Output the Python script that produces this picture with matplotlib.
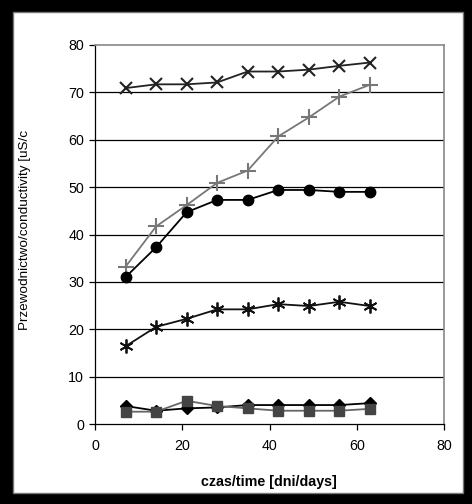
import matplotlib.pyplot as plt
from matplotlib.patches import Rectangle

plt.rcParams['font.family'] = ['Liberation Sans', 'DejaVu Sans']

# days of measurement
days = [7, 14, 21, 28, 35, 42, 49, 56, 63]

# conductivity series [uS/c]
cross_vals = [70.9, 71.7, 71.7, 72.1, 74.4, 74.4, 74.8, 75.6, 76.3]
plus_vals = [33.2, 41.7, 46.2, 50.9, 53.5, 60.7, 64.7, 69.1, 71.6]
circle_vals = [31.0, 37.3, 44.7, 47.3, 47.3, 49.4, 49.4, 49.0, 49.0]
star_vals = [16.4, 20.5, 22.2, 24.2, 24.2, 25.3, 24.9, 25.8, 24.9]
diamond_vals = [3.8, 2.8, 3.3, 3.5, 4.0, 4.0, 4.0, 4.0, 4.4]
square_vals = [2.6, 2.6, 4.9, 3.8, 3.3, 2.8, 2.8, 2.8, 3.2]

x_ticks = [0, 20, 40, 60, 80]
y_ticks = [0, 10, 20, 30, 40, 50, 60, 70, 80]

W, H = 472, 504
fig = plt.figure(figsize=(W / 100, H / 100), dpi=100, facecolor='black')

# white chart panel inside the black frame
panel = Rectangle((13 / W, 1 - 493 / H), 450 / W, 481 / H, transform=fig.transFigure,
                  facecolor='white', edgecolor='#777777', linewidth=1.0, zorder=-1)
fig.patches.append(panel)

ax = fig.add_axes([95 / W, 1 - 424 / H, 349 / W, 379 / H])
ax.set_facecolor('white')
ax.set_zorder(1)

for y in y_ticks[1:-1]:
    ax.axhline(y, color='black', linewidth=0.9, zorder=1)

asterisk = (6, 2, 0)
ax.plot(days, cross_vals, color='#222222', lw=1.3, marker='x', ms=9, mew=1.5, zorder=3)
ax.plot(days, plus_vals, color='#777777', lw=1.3, marker='+', ms=11, mew=1.5, zorder=3)
ax.plot(days, circle_vals, color='black', lw=1.3, marker='o', ms=7.5, zorder=3)
ax.plot(days, star_vals, color='#111111', lw=1.3, marker=asterisk, ms=10, mew=1.3, zorder=3)
ax.plot(days, diamond_vals, color='black', lw=1.3, marker='D', ms=6.5, zorder=3)
ax.plot(days, square_vals, color='#666666', lw=1.3, marker='s', ms=7.5,
        mfc='#444444', mec='#444444', zorder=4)

ax.set_xlim(0, 80)
ax.set_ylim(0, 80)
ax.set_xticks(x_ticks)
ax.set_yticks(y_ticks)
ax.tick_params(direction='out', length=4, width=0.9, labelsize=10.3, colors='black', pad=4)
ax.tick_params(axis='x', pad=7)

for side in ['top', 'right']:
    ax.spines[side].set_color('#888888')
    ax.spines[side].set_linewidth(1.2)
for side in ['left', 'bottom']:
    ax.spines[side].set_color('black')
    ax.spines[side].set_linewidth(0.9)

ax.set_xlabel('czas/time [dni/days]', fontsize=10.3, fontweight='bold')
ax.xaxis.set_label_coords(0.497, -0.135)
ax.set_ylabel('Przewodnictwo/conductivity [uS/c', fontsize=9.7, va='center')
ax.yaxis.set_label_coords(-0.2, 0.513)

fig.savefig('out.png', dpi=100, facecolor=fig.get_facecolor())
